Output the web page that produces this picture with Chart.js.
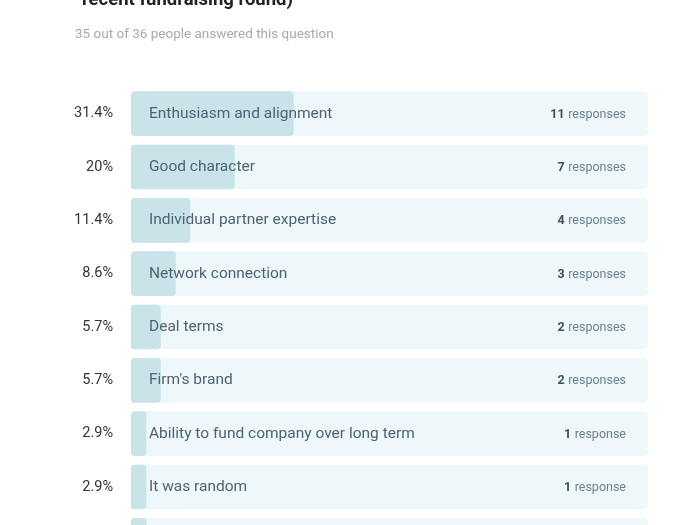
<!DOCTYPE html>
<html>
<head>
<meta charset="utf-8">
<script src="https://cdn.jsdelivr.net/npm/chart.js@4/dist/chart.umd.min.js"></script>
<style>
  html, body { margin: 0; padding: 0; background: #fff; overflow: hidden; width: 700px; height: 525px; }
  .wrap { position: relative; width: 700px; height: 525px; }
  .title { position: absolute; left: 82px; top: -12px; font: bold 18.5px Roboto, sans-serif; color: #222; white-space: nowrap; }
  .sub { position: absolute; left: 75px; top: 25px; font: 13.5px Roboto, sans-serif; color: #a9a9a9; white-space: nowrap; }
  canvas { position: absolute; left: 0; top: 0; }
</style>
</head>
<body>
<div class="wrap">
  <canvas id="chart" width="700" height="600"></canvas>
  <div class="title">recent fundraising round)</div>
  <div class="sub">35 out of 36 people answered this question</div>
</div>
<script>
// answers as shown, top to bottom (last row is cut off at the bottom edge)
const categories = [
    "Enthusiasm and alignment",
    "Good character",
    "Individual partner expertise",
    "Network connection",
    "Deal terms",
    "Firm's brand",
    "Ability to fund company over long term",
    "It was random",
    "Other"
]
const percents = [31.4, 20, 11.4, 8.6, 5.7, 5.7, 2.9, 2.9, 2.9]
const responses = [11, 7, 4, 3, 2, 2, 1, 1, 1]
const full = [100, 100, 100, 100, 100, 100, 100, 100, 100]

const FONT = 'Roboto, sans-serif'

const barLabels = {
    id: 'barLabels',
    afterDatasetsDraw(chart) {
        const { ctx, chartArea } = chart
        const meta = chart.getDatasetMeta(1)
        meta.data.forEach((bar, i) => {
            ctx.save()
            ctx.textBaseline = 'middle'
            ctx.textAlign = 'left'
            ctx.fillStyle = '#4e6373'
            ctx.font = `15.5px ${FONT}`
            ctx.fillText(categories[i], chartArea.left + 18, bar.y)

            const word = responses[i] === 1 ? 'response' : 'responses'
            const right = chartArea.right - 22
            ctx.textAlign = 'right'
            ctx.font = `12.5px ${FONT}`
            ctx.fillStyle = '#6f808d'
            ctx.fillText(word, right, bar.y + 1)
            const w = ctx.measureText(word).width
            ctx.font = `bold 12.5px ${FONT}`
            ctx.fillStyle = '#3e4f5d'
            ctx.fillText(String(responses[i]), right - w - 3.5, bar.y + 1)
            ctx.restore()
        })
    }
}

new Chart(document.getElementById('chart'), {
    type: 'bar',
    data: {
        labels: categories,
        datasets: [
            {
                label: 'Share',
                data: percents,
                backgroundColor: '#c9e4e9',
                borderRadius: 4,
                borderSkipped: false,
                barThickness: 44,
                grouped: false,
                order: 0
            },
            {
                label: 'Track',
                data: full,
                backgroundColor: '#eef7f9',
                borderRadius: 5,
                borderSkipped: false,
                barThickness: 44,
                grouped: false,
                order: 1
            }
        ]
    },
    options: {
        indexAxis: 'y',
        responsive: false,
        animation: false,
        devicePixelRatio: 1,
        layout: { padding: { top: 87, bottom: 33, right: 52, left: 0 } },
        plugins: {
            legend: { display: false },
            tooltip: { enabled: false }
        },
        scales: {
            x: { display: false, min: 0, max: 100 },
            y: {
                grid: { display: false, drawTicks: false },
                border: { display: false },
                afterFit(scale) { scale.width = 131 },
                ticks: {
                    padding: 18,
                    color: '#333',
                    font: { family: FONT, size: 14.5 },
                    callback: (value, index) => `${percents[index]}%`
                }
            }
        }
    },
    plugins: [barLabels]
})
</script>
</body>
</html>
